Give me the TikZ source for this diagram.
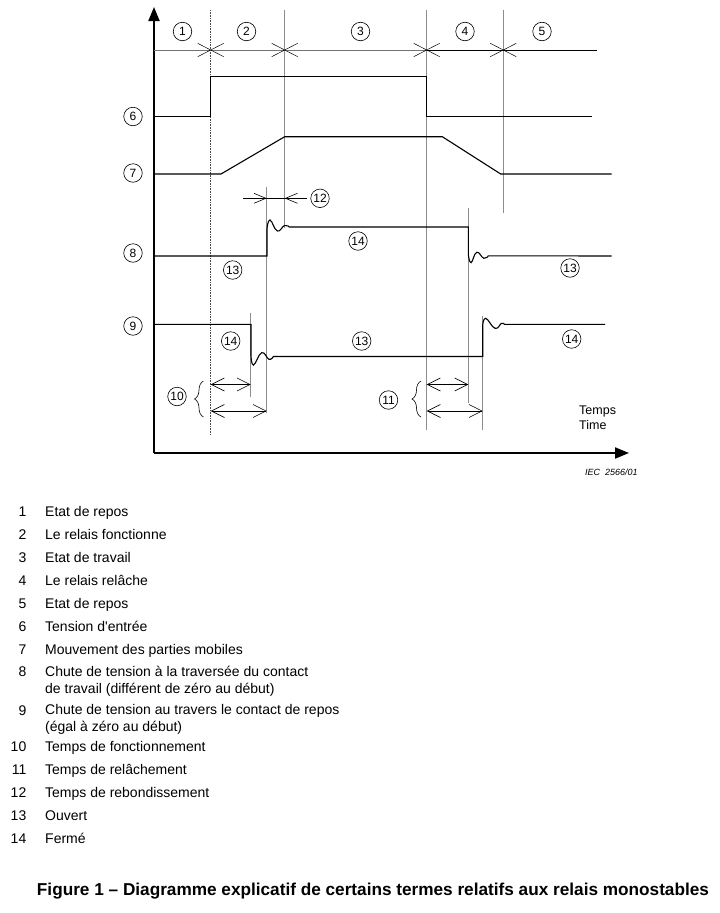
\documentclass[tikz,border=0pt]{standalone}
\usepackage{fontspec}
\setmainfont{Liberation Sans}
\usetikzlibrary{arrows.meta,decorations.pathreplacing}

\begin{document}
\begin{tikzpicture}[x=1pt,y=-1pt, every node/.style={font=\fontsize{14}{16.5}\selectfont},
  num/.style={draw,circle,inner sep=0pt,minimum size=18.5pt,line width=0.6pt,font=\fontsize{12}{12}\selectfont},
  sig/.style={line width=1.1pt,line join=miter},
  guide/.style={black!45,line width=0.6pt},
  dim/.style={line width=0.6pt,{Straight Barb[length=13pt,width=13pt]}-{Straight Barb[length=13pt,width=13pt]}},
  tip/.style={line width=0.6pt,-{Straight Barb[length=12pt,width=10pt]}},
  leg/.style={anchor=base west,align=left,inner sep=0pt}]
\useasboundingbox (0,0) rectangle (720,913);
% axes
\coordinate (O) at (154,453);
\coordinate (ytop) at (154,7);
\coordinate (xend) at (629,453);
\draw[line width=2pt,-{Triangle[length=14pt,width=11pt]}] (O) -- (ytop);
\draw[line width=2pt,-{Triangle[length=14pt,width=11pt]}] (O) -- (xend);
% guide lines
\draw[black!70,line width=0.6pt,densely dotted] (210.7,10) -- (210.7,435);
\foreach \x/\ya/\yb in {284.7/10/228, 426.7/10/430, 503.3/10/213, 266.7/187/413,
  250.7/313/397, 468.3/208/403, 482.7/316/430}
  \draw[guide] (\x,\ya) -- (\x,\yb);
% phase line
\draw[black!55,line width=0.8pt] (154,50) -- (426.7,50);
\draw[line width=0.8pt] (426.7,50) -- (597,50);
\foreach \x in {210.7,284.7,426.7,503.3}
  \draw[line width=0.5pt] (\x-13,43.3) -- (\x+13,56.7) (\x-13,56.7) -- (\x+13,43.3);
% signals
\draw[sig] (154,116.7) -- (210.7,116.7) -- (210.7,76.7) -- (426.7,76.7) -- (426.7,116.7) -- (592,116.7);
\draw[sig] (154,174) -- (221,174) -- (284.7,136.7) -- (442.3,136.7) -- (500.7,174) -- (611.7,174);
\draw[sig] (154,256) -- (267,256) -- (267,229)
  -- plot[smooth,tension=0.8] coordinates {(267,229) (270,220) (277.3,231) (284.5,225.5) (289.3,227)}
  -- (468.3,227) -- (468.3,254)
  -- plot[smooth,tension=0.8] coordinates {(468.3,254) (471,262.7) (476.7,252.3) (483.8,258.3) (488.3,255.8)}
  -- (611.7,256);
\draw[sig] (154,324.3) -- (251,324.3) -- (251,355)
  -- plot[smooth,tension=0.8] coordinates {(251,355) (253.5,365) (261.7,352.7) (269,359.3) (273.3,356.5)}
  -- (482.7,356.5) -- (482.7,326)
  -- plot[smooth,tension=0.8] coordinates {(482.7,326) (485.7,318.3) (495,328.3) (501.5,323.3) (504.3,324.3)}
  -- (605,324.3);
% bounce time
\coordinate (b1) at (243,198.3);
\coordinate (b2) at (306.7,198.3);
\draw[line width=0.6pt] (b1) -- (b2);
\draw[tip] (b1) -- (266.7,198.3);
\draw[tip] (b2) -- (284.7,198.3);
% operate / release times
\draw[dim] (210.7,384.5) -- (250.7,384.5);
\draw[dim] (210.7,411) -- (266.7,411);
\draw[dim] (426.7,384.5) -- (468.3,384.5);
\draw[dim] (426.7,411) -- (482.7,411);
\draw[line width=0.6pt,decorate,decoration={brace,amplitude=9pt}] (203.5,417) -- (203.5,381);
\draw[line width=0.6pt,decorate,decoration={brace,amplitude=9pt}] (421,417) -- (421,381);
% circled labels
\foreach \id/\n/\x/\y in {p1/1/182.5/31.5, p2/2/246.5/31.5, p3/3/360.5/31.5, p4/4/465/31.5, p5/5/542/31.5,
  s6/6/133/116.5, s7/7/133/173, s8/8/133/253, s9/9/133/326,
  r12/12/320/198.3, a14/14/358/241, a13/13/232.7/270, b13/13/570/268,
  c14/14/230.7/341, d13/13/361.7/341, e14/14/571.7/339, r10/10/177/396.5, r11/11/388.5/400}
  \node[num] (\id) at (\x,\y) {\n};
\node[anchor=west,align=left,inner sep=0pt,font=\fontsize{12.5}{15}\selectfont] (time) at (579,417.5) {Temps\\Time};
\node[anchor=base west,inner sep=0pt,font=\itshape\fontsize{9}{9}\selectfont] (iec) at (585,475) {IEC\ \ 2566/01};
% legend
\foreach \n/\y/\t in {1/516.7/Etat de repos, 2/539.3/Le relais fonctionne, 3/562/Etat de travail,
  4/585/Le relais relâche, 5/608/Etat de repos, 6/631/Tension d\textquotesingle entrée,
  7/654/Mouvement des parties mobiles,
  10/751.7/Temps de fonctionnement, 11/774.3/Temps de relâchement,
  12/797/Temps de rebondissement, 13/820/Ouvert, 14/843/Fermé}
  {\node[leg,anchor=base east] (n\n) at (26.5,\y) {\n};
   \node[leg] (t\n) at (45,\y) {\t};}
\node[leg,anchor=base east] (n8) at (26.5,676.7) {8};
\node[leg] (t8) at (45,693.3) {Chute de tension à la traversée du contact\\de travail (différent de zéro au début)};
\node[leg,anchor=base east] (n9) at (26.5,715) {9};
\node[leg] (t9) at (45,731) {Chute de tension au travers le contact de repos\\(égal à zéro au début)};
\node[anchor=base,inner sep=0pt,font=\bfseries\fontsize{17.2}{19}\selectfont] (cap) at (373,895)
  {Figure 1 – Diagramme explicatif de certains termes relatifs aux relais monostables};
\end{tikzpicture}
\end{document}
